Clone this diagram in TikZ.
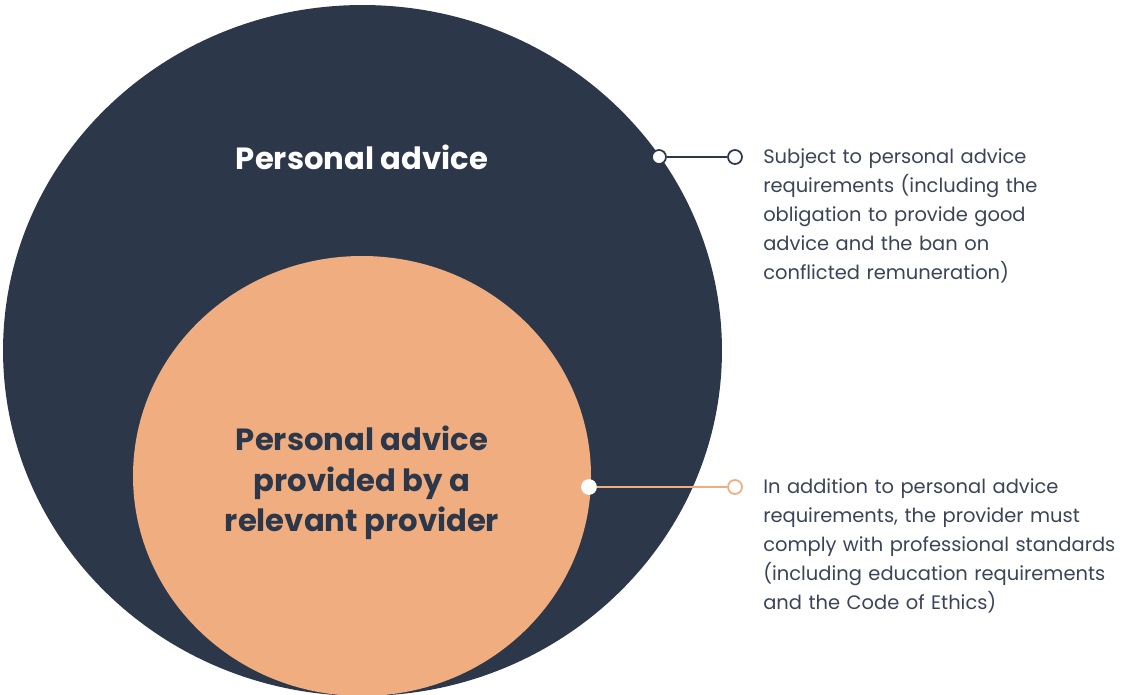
\documentclass[tikz,border=0pt]{standalone}
\usepackage{fontspec}
\setmainfont{Poppins}
\definecolor{navy}{HTML}{2C3749}
\definecolor{peach}{HTML}{F0AD80}
\definecolor{bodytext}{HTML}{3A4456}
\tikzset{
  title/.style={font=\fontsize{23}{30.5}\selectfont\bfseries, align=center, inner sep=0pt},
  body/.style={font=\fontsize{14.6}{21.75}\selectfont, text=bodytext, align=left, anchor=north west, inner sep=0pt, text width=320pt},
  dot/.style={circle, fill=white, minimum size=10.5pt, inner sep=0pt, line width=1.3pt},
}
\begin{document}
\begin{tikzpicture}[x=0.75pt, y=-0.75pt]
\useasboundingbox (0,0) rectangle (1124,695);
\begin{scope}
\clip (0,0) rectangle (1124,695);
\fill[navy] (362.5,350.5) ellipse [x radius=269.6pt, y radius=259.1pt];
\fill[peach] (362,476) ellipse [x radius=171.75pt, y radius=165pt];
\end{scope}
\node[title, text=white] (pa) at (362,157) {Personal advice};
\node[title, text=navy] (pr) at (362,483) {Personal advice\\provided by a\\relevant provider};
% top connector
\node[dot, draw=navy] (d1) at (659,157) {};
\node[dot, draw=navy] (e1) at (735,157) {};
\draw[navy, line width=1.3pt] (d1) -- (e1);
\node[body] (t1) at (763,148) {Subject to personal advice\\requirements (including the\\obligation to provide good\\advice and the ban on\\conflicted remuneration)};
% bottom connector
\node[dot, draw=white] (d2) at (589,487) {};
\node[dot, draw=peach] (e2) at (735,487) {};
\draw[peach, line width=1.3pt] (d2) -- (e2);
\node[body] (t2) at (763,478) {In addition to personal advice\\requirements, the provider must\\comply with professional standards\\(including education requirements\\and the Code of Ethics)};
\end{tikzpicture}
\end{document}
